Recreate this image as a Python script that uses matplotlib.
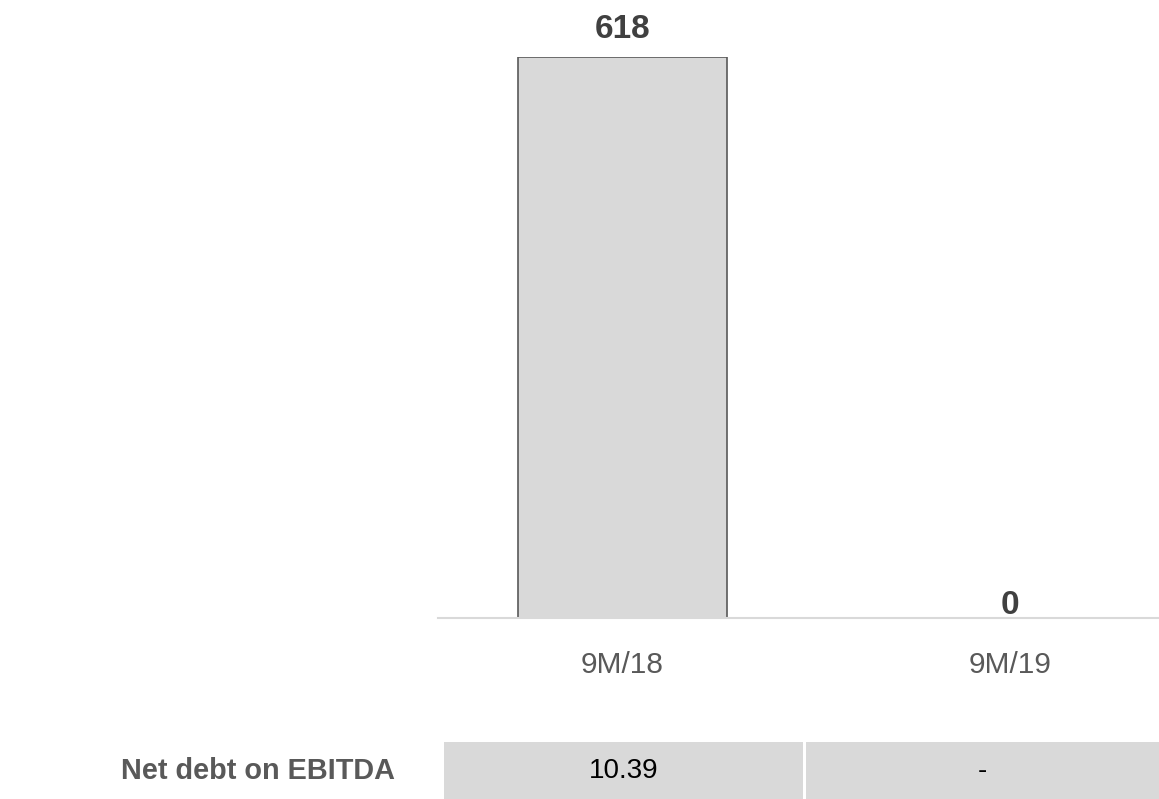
import matplotlib.pyplot as plt
from matplotlib.patches import Rectangle

plt.rcParams['font.family'] = ['Liberation Sans', 'DejaVu Sans']

periods = ["9M/18", "9M/19"]
values = [618, 0]
row_label = "Net debt on EBITDA"
row_values = ["10.39", "-"]

W, H = 1159, 799
fig = plt.figure(figsize=(W / 100, H / 100), dpi=100)

# bar chart area: baseline at y=618px, top of first bar at y=57px
ax = fig.add_axes([438 / W, 1 - 618 / H, 1 - 438 / W, (618 - 57) / H])
x = range(len(periods))
ax.bar(x, values, width=0.54, color="#d9d9d9", edgecolor="#595959", linewidth=1.2, zorder=2)
ax.set_xlim(-0.476, 1.385)
ax.set_ylim(0, max(values))

for xi, v in zip(x, values):
    off = 14 if v > 0 else 3
    ax.annotate(str(v), (xi, v), xytext=(0, off), textcoords="offset points",
                ha="center", va="baseline", fontsize=24, fontweight="bold",
                color="#404040", annotation_clip=False)

for s in ["top", "right", "left"]:
    ax.spines[s].set_visible(False)
ax.spines["bottom"].set_color("#d9d9d9")
ax.spines["bottom"].set_linewidth(1.5)
ax.set_yticks([])
ax.set_xticks(list(x))
ax.set_xticklabels(periods, fontsize=21.5, color="#595959")
ax.tick_params(axis="x", length=0, pad=24)

# table row below the chart
cells = [(444, 803), (806, 1159)]
y0, y1 = 742, 799
for (c0, c1), txt in zip(cells, row_values):
    fig.patches.append(Rectangle((c0 / W, 1 - y1 / H), (c1 - c0) / W, (y1 - y0) / H,
                                 transform=fig.transFigure, facecolor="#d9d9d9",
                                 edgecolor="none"))
    fig.text((c0 + c1) / 2 / W, 1 - (y0 + y1) / 2 / H, txt, ha="center", va="center",
             fontsize=20, color="black")

fig.text(258 / W, 1 - 771 / H, row_label, ha="center", va="center",
         fontsize=20.8, fontweight="bold", color="#595959")

fig.savefig("out.png", dpi=100)
